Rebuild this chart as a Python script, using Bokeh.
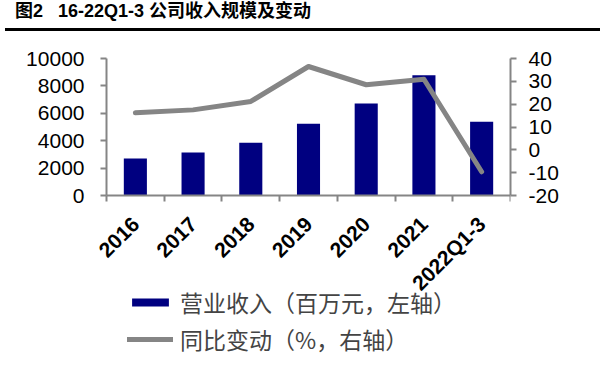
import math
from bokeh.plotting import figure
from bokeh.layouts import column
from bokeh.models import (Range1d, LinearAxis, FixedTicker, Legend, LegendItem,
                          ColumnDataSource, Div)
from bokeh.embed import file_html
from bokeh.resources import INLINE

# ---- data ----
categories = ["2016", "2017", "2018", "2019", "2020", "2021", "2022Q1-3"]
revenue = [2700, 3140, 3850, 5230, 6715, 8780, 5380]          # 百万元, left axis
yoy_change = [16.2, 17.5, 21.2, 36.5, 28.5, 30.9, -9.6]        # %, right axis
left_ticks = [0, 2000, 4000, 6000, 8000, 10000]
right_ticks = [-20, -10, 0, 10, 20, 30, 40]
title_text = "图2&nbsp;&nbsp;&nbsp;16-22Q1-3 公司收入规模及变动"
legend_labels = ["营业收入（百万元，左轴）", "同比变动（%，右轴）"]

# ---- layout constants ----
W = 595
TOP_H, MAIN_H, BOT_H = 26, 324, 5
PLOT_L, PLOT_R = 106, 510         # pixel x of the left / right value axes
FRAME_T = 2                       # frame top offset within the main figure
AXIS_T = 22                       # pixel y of the top of the value axes
AXIS_H = 137                      # pixel height of the value axes (0..10000)
GRAY = "#858585"
NAVY = "#000080"
LATIN = "Liberation Sans"
CJK = "Noto Sans CJK SC"

N = len(categories)
L_MIN, L_MAX = left_ticks[0], left_ticks[-1]
R_MIN, R_MAX = right_ticks[0], right_ticks[-1]
# ranges extended so the value axes occupy only AXIS_H pixels starting at AXIS_T,
# while the frame covers nearly the whole figure (so nothing gets clipped)
l_end = L_MAX + (L_MAX - L_MIN) * (AXIS_T - FRAME_T) / AXIS_H
l_start = L_MAX - (L_MAX - L_MIN) * (MAIN_H - AXIS_T) / AXIS_H
r_end = R_MAX + (R_MAX - R_MIN) * (AXIS_T - FRAME_T) / AXIS_H
r_start = R_MAX - (R_MAX - R_MIN) * (MAIN_H - AXIS_T) / AXIS_H
x_start = -PLOT_L * N / (PLOT_R - PLOT_L)

# ---- header: title + rule ----
header = Div(width=W, height=TOP_H, text=(
    f'<div style="position:relative;width:{W}px;height:{TOP_H}px;">'
    f'<div style="position:absolute;left:10px;top:-4px;font-family:\'{LATIN}\',\'{CJK}\';'
    f'font-weight:bold;font-size:18px;line-height:20px;white-space:nowrap;color:black;">'
    f'{title_text}</div>'
    f'<div style="position:absolute;left:0;top:23px;width:{W}px;height:3px;background:black;"></div>'
    f'</div>'))

# ---- main chart ----
p = figure(width=W, height=MAIN_H, output_backend="svg", toolbar_location=None,
           x_range=Range1d(x_start, N), y_range=Range1d(l_start, l_end),
           x_axis_type=None, y_axis_type=None,
           min_border_left=0, min_border_right=W - PLOT_R,
           min_border_top=FRAME_T, min_border_bottom=0)
p.outline_line_color = None
p.background_fill_color = "white"
p.border_fill_color = "white"
p.extra_y_ranges = {"pct": Range1d(r_start, r_end)}

xs = [i + 0.5 for i in range(N)]
source = ColumnDataSource(dict(x=xs, cat=categories, rev=revenue, yoy=yoy_change))

bars = p.vbar(x="x", top="rev", bottom=0, width=0.4, source=source,
              fill_color=NAVY, line_color=None)
line = p.line(x="x", y="yoy", y_range_name="pct", source=source,
              line_color=GRAY, line_width=5, line_join="round", line_cap="round")


def style_axis(ax):
    ax.axis_line_color = GRAY
    ax.axis_line_width = 2
    ax.major_tick_line_color = GRAY
    ax.major_tick_line_width = 2
    ax.major_tick_out = 6
    ax.major_tick_in = 0
    ax.minor_tick_line_color = None
    ax.major_label_text_font = LATIN
    ax.major_label_text_font_size = "21px"
    ax.major_label_text_color = "black"


xaxis = LinearAxis(ticker=FixedTicker(ticks=xs, minor_ticks=list(range(N + 1))),
                   major_label_overrides={x: c for x, c in zip(xs, categories)},
                   fixed_location=L_MIN, bounds=(0, N))
style_axis(xaxis)
xaxis.major_tick_out = 0
xaxis.minor_tick_line_color = GRAY
xaxis.minor_tick_line_width = 2
xaxis.minor_tick_out = 6
xaxis.minor_tick_in = 0
xaxis.major_label_orientation = math.pi / 4
xaxis.major_label_text_font_style = "bold"
xaxis.major_label_standoff = 19
p.add_layout(xaxis, "below")

yleft = LinearAxis(ticker=FixedTicker(ticks=left_ticks), bounds=(L_MIN, L_MAX),
                   fixed_location=0,
                   major_label_overrides={t: str(t) for t in left_ticks})
style_axis(yleft)
yleft.major_label_standoff = 16
p.add_layout(yleft, "left")

yright = LinearAxis(y_range_name="pct", ticker=FixedTicker(ticks=right_ticks),
                    bounds=(R_MIN, R_MAX),
                    major_label_overrides={t: str(t) for t in right_ticks})
style_axis(yright)
yright.major_label_standoff = 12
p.add_layout(yright, "right")

legend = Legend(items=[LegendItem(label=legend_labels[0], renderers=[bars]),
                       LegendItem(label=legend_labels[1], renderers=[line])],
                location=(PLOT_L + 21, 4), orientation="vertical",
                background_fill_alpha=0, border_line_color=None,
                padding=0, margin=0, spacing=3,
                glyph_width=46, glyph_height=10, label_standoff=7, label_height=25,
                label_text_font=CJK, label_text_font_size="23px",
                label_text_baseline="middle")
p.add_layout(legend)

# ---- footer rule ----
footer = Div(width=W, height=BOT_H, text=(
    f'<div style="position:relative;width:{W}px;height:{BOT_H}px;">'
    f'<div style="position:absolute;left:0;top:1px;width:{W}px;height:3px;background:black;"></div>'
    f'</div>'))

layout = column(header, p, footer, spacing=0)
open("out.html", "w").write(file_html(layout, INLINE))
